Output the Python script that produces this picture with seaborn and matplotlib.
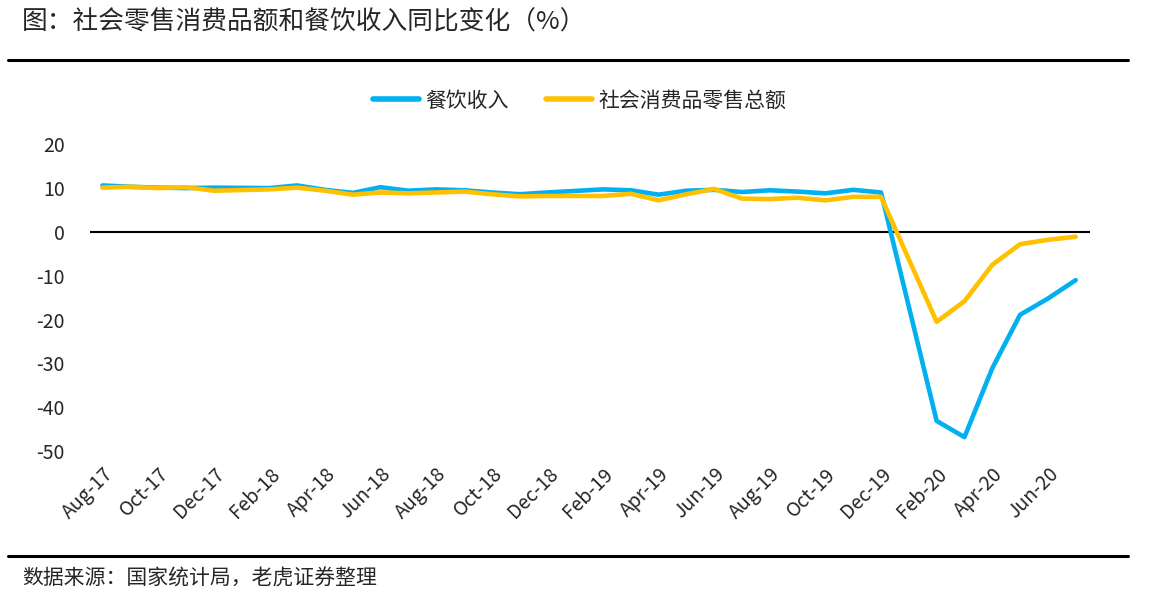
import pandas as pd
import matplotlib.pyplot as plt
import matplotlib.transforms as mtransforms
import seaborn as sns

# 月度数据（1月与2月合并公布，故无1月数据点）
months = ['2017-08', '2017-09', '2017-10', '2017-11', '2017-12',
          '2018-02', '2018-03', '2018-04', '2018-05', '2018-06', '2018-07',
          '2018-08', '2018-09', '2018-10', '2018-11', '2018-12',
          '2019-02', '2019-03', '2019-04', '2019-05', '2019-06', '2019-07',
          '2019-08', '2019-09', '2019-10', '2019-11', '2019-12',
          '2020-02', '2020-03', '2020-04', '2020-05', '2020-06', '2020-07']
catering = [10.6, 10.3, 10.1, 10.0, 10.1,
            10.0, 10.6, 9.6, 8.9, 10.2, 9.4,
            9.7, 9.5, 9.0, 8.6, 9.0,
            9.7, 9.5, 8.5, 9.4, 9.6, 9.1,
            9.5, 9.2, 8.8, 9.6, 9.0,
            -43.1, -46.8, -31.1, -18.9, -15.2, -11.0]
retail = [10.1, 10.3, 10.0, 10.2, 9.4,
          9.7, 10.1, 9.4, 8.5, 9.0, 8.8,
          9.0, 9.2, 8.6, 8.1, 8.2,
          8.2, 8.7, 7.2, 8.6, 9.8, 7.6,
          7.5, 7.8, 7.2, 8.0, 8.0,
          -20.5, -15.8, -7.5, -2.8, -1.8, -1.1]

start = pd.Period('2017-08', freq='M')
end = pd.Period('2020-07', freq='M')
x = [(pd.Period(m, freq='M') - start).n for m in months]

df = pd.DataFrame({'x': x * 2,
                   'value': catering + retail,
                   'series': ['餐饮收入'] * len(x) + ['社会消费品零售总额'] * len(x)})

sns.set_style('white')
plt.rcParams['font.family'] = ['Noto Sans CJK SC', 'DejaVu Sans']
plt.rcParams['axes.unicode_minus'] = False

fig = plt.figure(figsize=(11.53, 5.96), dpi=100)
ax = fig.add_axes([0.078, 0.243, 0.867, 0.515])

sns.lineplot(data=df, x='x', y='value', hue='series',
             palette={'餐饮收入': '#00B0F0', '社会消费品零售总额': '#FFC000'},
             linewidth=3.3, ax=ax, legend=True)

ax.axhline(0, color='black', linewidth=1.5, zorder=0)
ax.set_xlim(-0.45, 35.5)
ax.set_ylim(-50, 20)
ax.set_yticks(range(-50, 21, 10))
ax.tick_params(axis='y', labelsize=14, length=0, pad=18)

periods = pd.period_range(start, end, freq='M')
tick_pos = list(range(0, len(periods), 2))
ax.set_xticks(tick_pos)
ax.set_xticklabels([periods[i].strftime('%b-%y') for i in tick_pos],
                   rotation=45, ha='right', rotation_mode='anchor', fontsize=14)
shift = mtransforms.ScaledTranslation(-6 / 100, 0, fig.dpi_scale_trans)
for lbl in ax.get_xticklabels():
    lbl.set_transform(lbl.get_transform() + shift)
ax.tick_params(axis='x', length=0, pad=9)
ax.set_xlabel('')
ax.set_ylabel('')
for s in ax.spines.values():
    s.set_visible(False)

leg = ax.legend(loc='lower center', bbox_to_anchor=(0.49, 1.045), ncol=2,
                frameon=False, fontsize=15, handlelength=2.2,
                handletextpad=0.3, columnspacing=1.8)
for line in leg.get_lines():
    line.set_linewidth(4)

fig.text(0.019, 0.962, '图：社会零售消费品额和餐饮收入同比变化（%）',
         fontsize=18.5, va='center', ha='left')
fig.add_artist(plt.Line2D([0.007, 0.978], [0.899, 0.899], color='black',
                          linewidth=2.2, transform=fig.transFigure))
fig.add_artist(plt.Line2D([0.007, 0.978], [0.067, 0.067], color='black',
                          linewidth=2.2, transform=fig.transFigure))
fig.text(0.019, 0.030, '数据来源：国家统计局，老虎证券整理',
         fontsize=15, va='center', ha='left')

fig.savefig('out.png', dpi=100)
